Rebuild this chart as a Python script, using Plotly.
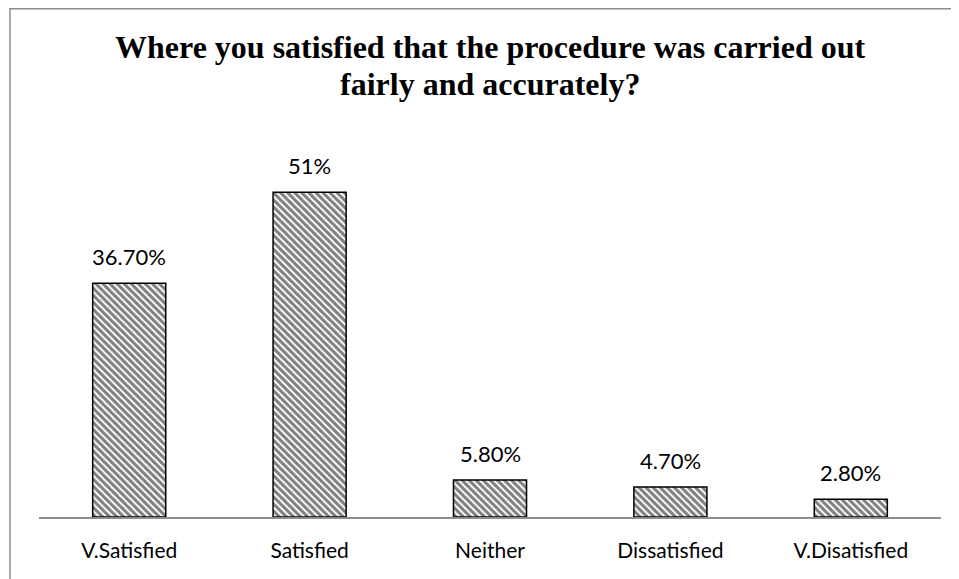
import plotly.graph_objects as go

# Données du graphique
categories = ["V.Satisfied", "Satisfied", "Neither", "Dissatisfied", "V.Disatisfied"]
values = [36.7, 51, 5.8, 4.7, 2.8]
labels = ["36.70%", "51%", "5.80%", "4.70%", "2.80%"]

title_lines = ["Where you satisfied that the procedure was carried out",
               "fairly and accurately?"]

fig = go.Figure()

fig.add_trace(go.Bar(
	x=categories,
	y=values,
	marker=dict(
		color="white",
		line=dict(color="black", width=1.5),
		pattern=dict(shape="\\", fgcolor="black", bgcolor="white", size=5, solidity=0.6)
	),
	hoverinfo="skip"
))

# Étiquettes au-dessus des barres
for cat, val, lab in zip(categories, values, labels):
	fig.add_annotation(
		x=cat, y=val, text=lab, showarrow=False,
		yshift=27, font=dict(family="Lato", size=22, color="black")
	)

# Titre sur deux lignes (interligne serré comme l'original)
for i, line in enumerate(title_lines):
	fig.add_annotation(
		xref="paper", yref="paper",
		x=0.5, y=1.0, yshift=88 - 37 * i,
		text=f"<b>{line}</b>", showarrow=False,
		xanchor="center", yanchor="middle",
		font=dict(family="Liberation Serif", size=32, color="black")
	)

# Cadre du graphique
fig.add_shape(
	type="rect", xref="paper", yref="paper",
	x0=-0.0322, x1=1.2, y0=-0.3, y1=1.3305,
	line=dict(color="#8c8c8c", width=1.5), fillcolor="rgba(0,0,0,0)"
)

fig.update_layout(
	width=951,
	height=571,
	margin=dict(l=31, r=18, t=127, b=62),
	plot_bgcolor="white",
	paper_bgcolor="white",
	bargap=0.595,
	showlegend=False
)

fig.update_xaxes(
	showline=True, linecolor="#8c8c8c", linewidth=1.5,
	ticks="", showgrid=False, ticklabelstandoff=14,
	tickfont=dict(family="Lato", size=21, color="black")
)
fig.update_yaxes(range=[0, 60], visible=False, showgrid=False)

fig.write_html("out.html")
